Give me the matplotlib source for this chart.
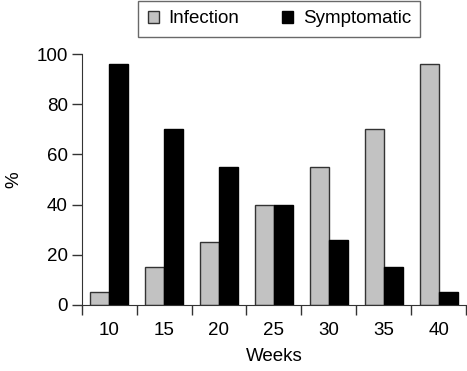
import matplotlib
matplotlib.use('Agg')
import matplotlib.pyplot as plt
import numpy as np

# data
weeks = ['10', '15', '20', '25', '30', '35', '40']
infection = [5, 15, 25, 40, 55, 70, 96]
symptomatic = [96, 70, 55, 40, 26, 15, 5]

plt.rcParams['font.family'] = ['Liberation Sans', 'DejaVu Sans']
fs = 13.5

fig = plt.figure(figsize=(4.67, 3.71), dpi=100)
ax = fig.add_axes([0.175, 0.178, 0.823, 0.676])

x = np.arange(len(weeks)) + 0.5
w = 0.345
ax.bar(x - w/2, infection, w, color='#c2c2c2', edgecolor='#333333', lw=1, label='Infection')
ax.bar(x + w/2, symptomatic, w, color='black', edgecolor='black', lw=1, label='Symptomatic')

ax.set_xlim(0, len(weeks))
ax.set_ylim(0, 100)
ax.set_xticks(np.arange(len(weeks) + 1))
ax.set_xticklabels([])
ax.set_xticks(x, minor=True)
ax.set_xticklabels(weeks, minor=True)
ax.tick_params(axis='x', which='major', direction='out', length=7, width=1, color='#333333')
ax.tick_params(axis='x', which='minor', length=0, pad=12, labelsize=fs)
ax.set_yticks([0, 20, 40, 60, 80, 100])
ax.tick_params(axis='y', direction='out', length=7, width=1, color='#333333', labelsize=fs, pad=3)

for s in ['top', 'right']:
    ax.spines[s].set_visible(False)
for s in ['left', 'bottom']:
    ax.spines[s].set_color('#333333')
ax.spines['left'].set_bounds(0, 100)

ax.set_xlabel('Weeks', fontsize=fs, labelpad=7)
ax.set_ylabel('%', fontsize=fs, labelpad=10)

leg = fig.legend(loc='upper center', bbox_to_anchor=(0.598, 1.0), ncol=2, fontsize=fs,
                 frameon=True, fancybox=False, edgecolor='#444444', handlelength=0.6,
                 handleheight=0.6, handletextpad=0.5, columnspacing=2.3, borderpad=0.5,
                 borderaxespad=0.05)
leg.get_frame().set_linewidth(1)

fig.savefig('out.png', dpi=100)
